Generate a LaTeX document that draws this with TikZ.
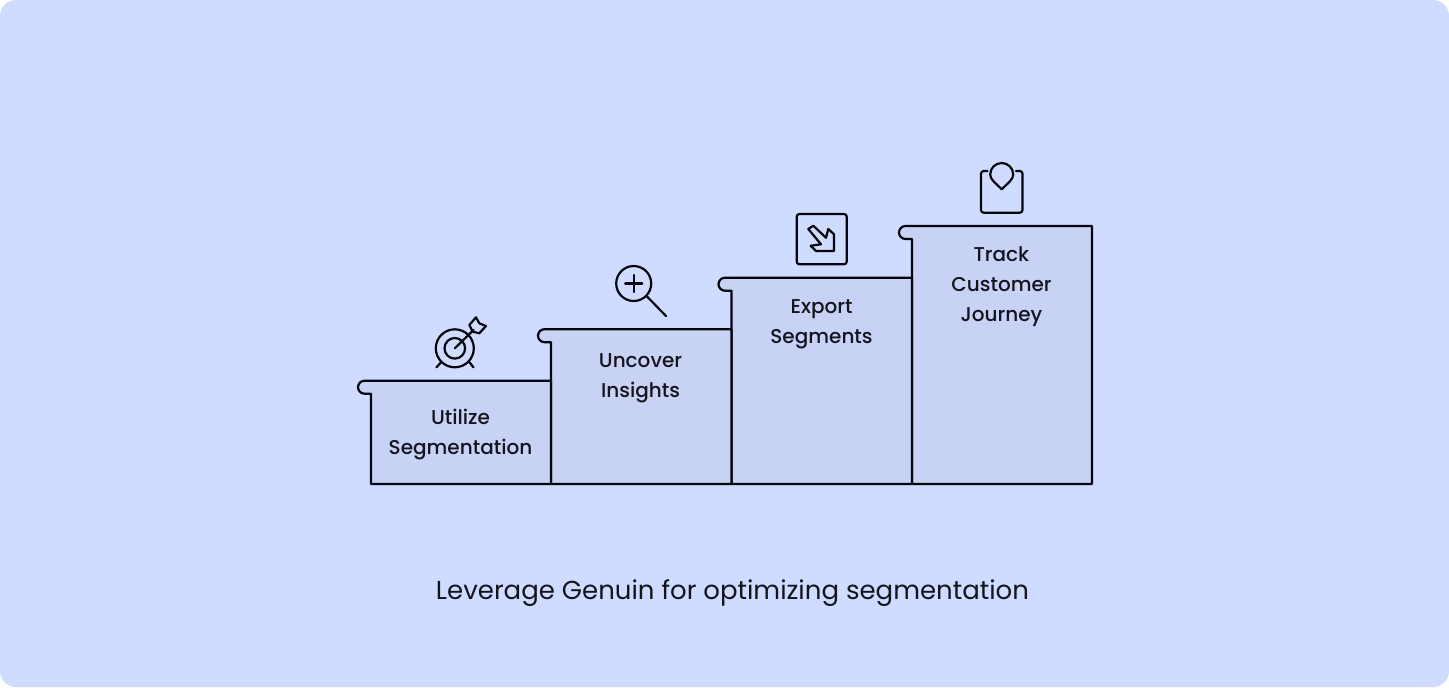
\documentclass[tikz,border=0pt]{standalone}
\usepackage{fontspec}
\setmainfont{Poppins}
\newfontfamily\medfont{Poppins Medium}
\definecolor{pagebg}{HTML}{CFDBFF}
\definecolor{stepbg}{HTML}{C7D2F5}
\definecolor{inkline}{HTML}{05050C}
\definecolor{inktext}{HTML}{14141E}
\tikzset{
  x=0.75pt, y=-0.75pt,
  stepbox/.style = {draw=inkline, fill=stepbg, line width=1.65pt, line join=round},
  icon/.style = {draw=inkline, line width=1.65pt, line cap=round, line join=round},
  steplabel/.style = {align=center, inner sep=0pt, text=inktext, font=\medfont\fontsize{15}{22.5}\selectfont},
  caption/.style = {inner sep=0pt, text=inktext, font=\fontsize{19.5}{24}\selectfont}
}
% one stair: left edge, top edge, right edge
\newcommand{\stair}[3]{
  \draw [stepbox] (#1,484) -- (#1,#2+13) -- (#1-6.5,#2+13)
    arc [start angle=90, end angle=270, radius=6.5] -- (#3,#2) -- (#3,484) -- cycle;
}
\begin{document}
\begin{tikzpicture}
\useasboundingbox (0,0) rectangle (1449,687);
\fill [white] (0,0) rectangle (1449,687);
\fill [pagebg, rounded corners=12pt] (0,0) rectangle (1449,687);
% stairs
\stair{912}{226}{1092}
\stair{731.5}{277.7}{912}
\stair{551}{329.2}{731.5}
\stair{371}{380.7}{551}
% labels
\node [steplabel] (utilize) at (460.5,435) {Utilize\\Segmentation};
\node [steplabel] (uncover) at (640.5,378) {Uncover\\Insights};
\node [steplabel] (export) at (821.5,324) {Export\\Segments};
\node [steplabel] (track) at (1001.5,287) {Track\\Customer\\Journey};
\node [caption] (title) at (732.5,593) {Leverage Genuin for optimizing segmentation};
% target
\draw [icon] (454.8,348.3) circle (19);
\draw [icon] (454.8,348.3) circle (10.3);
\draw [icon] (454.8,348.3) -- (473.6,330);
\draw [icon] (436.5,367.3) -- (441,362.3) (473.5,367.3) -- (469.5,362.3);
\draw [icon] (469.3,325) -- (476,317.3) -- (479.3,323.3) -- (486,326) -- (479.3,333.3) -- (472.9,331.7) -- cycle;
% magnifier
\draw [icon] (633.7,283.5) circle (17.5);
\draw [icon] (625.2,283.5) -- (642.2,283.5) (633.7,275) -- (633.7,292);
\draw [icon] (647,296.5) -- (666,316);
% export
\draw [icon, rounded corners=2pt] (796.7,214) rectangle (846.7,264.3);
\draw [icon] (808.3,229) -- (813.3,225.7) -- (826,237.7) -- (828.3,229) -- (834,234.3) -- (834,251) -- (816,251) -- (810.7,245.7) -- (821,244.3) -- cycle;
% pin
\draw [icon, rounded corners=2pt] (987.5,171) -- (981,171) -- (981,212.7) -- (1022.5,212.7) -- (1022.5,171) -- (1016,171);
\draw [icon] (1001.7,189.3) .. controls (995,182.5) and (990.2,179.5) .. (990.2,174.5)
  arc [start angle=180, end angle=360, radius=11.5]
  .. controls (1013.2,179.5) and (1008.4,182.5) .. (1001.7,189.3) -- cycle;
\end{tikzpicture}
\end{document}
